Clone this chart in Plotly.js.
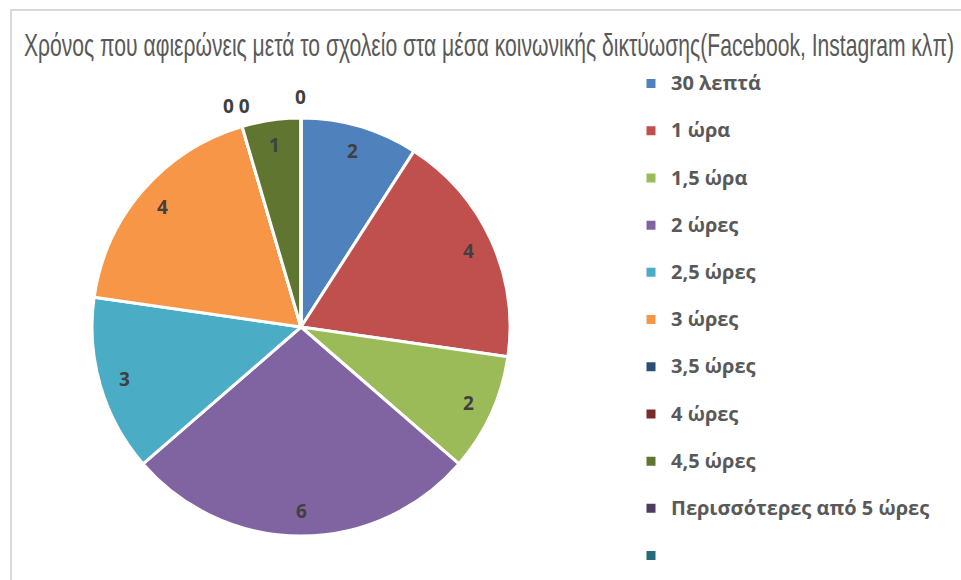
<!DOCTYPE html>
<html>
<head>
<meta charset="utf-8">
<script src="https://cdn.plot.ly/plotly-3.0.1.min.js"></script>
<style>html,body{margin:0;padding:0;background:#fff}#chart{width:961px;height:580px}</style>
</head>
<body>
<div id="chart"></div>
<script>
const categories = ["30 λεπτά", "1 ώρα", "1,5 ώρα", "2 ώρες", "2,5 ώρες", "3 ώρες", "3,5 ώρες", "4 ώρες", "4,5 ώρες", "Περισσότερες από 5 ώρες", ""];
const values = [2, 4, 2, 6, 3, 4, 0, 0, 1, 0, 0];
const colors = ["#4F81BD", "#C0504D", "#9BBB59", "#8064A2", "#4BACC6", "#F79646", "#2C4D75", "#772C2A", "#5F7530", "#4D3B62", "#276A7C"];
const titleText = "Χρόνος που αφιερώνεις μετά το σχολείο στα μέσα κοινωνικής δικτύωσης(Facebook, Instagram κλπ)";

const W = 961, H = 580;
const cx = 301, cy = 327, r = 209;
const labelFont = { family: "Open Sans, Noto Sans, sans-serif", size: 19, color: "#404040", weight: "bold" };

// data labels placed like Excel's "inside end" / outside for zero slices, derived from the values
const total = values.reduce((a, b) => a + b, 0);
const annotations = [];
let cum = 0;
const zeroGroups = {};
values.forEach((v, i) => {
  if (categories[i] === "") { cum += v; return; }
  if (v > 0) {
    const a = (cum + v / 2) / total * 2 * Math.PI;
    const rr = 0.88 * r;
    annotations.push({ x: (cx + rr * Math.sin(a)) / W, y: 1 - (cy - rr * Math.cos(a)) / H, text: String(v) });
  } else {
    const key = cum.toFixed(6);
    (zeroGroups[key] = zeroGroups[key] || []).push(String(v));
  }
  cum += v;
});
Object.keys(zeroGroups).forEach(k => {
  const a = parseFloat(k) / total * 2 * Math.PI;
  const rr = 1.1 * r;
  annotations.push({ x: (cx + rr * Math.sin(a)) / W, y: 1 - (cy - rr * Math.cos(a)) / H, text: zeroGroups[k].join(" ") });
});
annotations.forEach(an => Object.assign(an, { xref: "paper", yref: "paper", xanchor: "center", yanchor: "middle", showarrow: false, font: labelFont }));

const trace = {
  type: "pie",
  labels: categories.map(c => '<span style="font-size:20px">' + (c === "" ? "\u00a0" : c) + '</span><br> '),
  values: values,
  sort: false,
  direction: "clockwise",
  rotation: 0,
  marker: { colors: colors, line: { color: "#ffffff", width: 3 } },
  textinfo: "none",
  hoverinfo: "label+value+percent",
  domain: { x: [(cx - r) / W, (cx + r) / W], y: [(H - cy - r) / H, (H - cy + r) / H] },
  automargin: false
};

const layout = {
  width: W, height: H,
  margin: { l: 0, r: 0, t: 0, b: 0, autoexpand: false },
  paper_bgcolor: "#ffffff",
  title: {
    text: titleText,
    x: 489 / W, xanchor: "center", y: 1 - 45 / H, yanchor: "middle",
    font: { family: "Liberation Sans, Arial, sans-serif", size: 32, color: "#595959" }
  },
  showlegend: true,
  legend: {
    x: 631 / W, xanchor: "left", y: 1 - 66 / H, yanchor: "top",
    valign: "top",
    font: { family: "Open Sans, Noto Sans, sans-serif", size: 17, color: "#595959", weight: "bold" },
    bgcolor: "rgba(0,0,0,0)"
  },
  annotations: annotations,
  shapes: [{
    type: "path", xref: "paper", yref: "paper",
    path: `M ${11 / W} -0.05 L ${11 / W} ${1 - 10 / H} L 1.05 ${1 - 10 / H}`,
    line: { color: "#d9d9d9", width: 2 }
  }]
};

Plotly.newPlot("chart", [trace], layout, { displayModeBar: false, staticPlot: true }).then(gd => {
  const t = gd.querySelector(".gtitle");
  if (t) {
    t.setAttribute("textLength", "930");
    t.setAttribute("lengthAdjust", "spacingAndGlyphs");
  }
});
</script>
</body>
</html>
